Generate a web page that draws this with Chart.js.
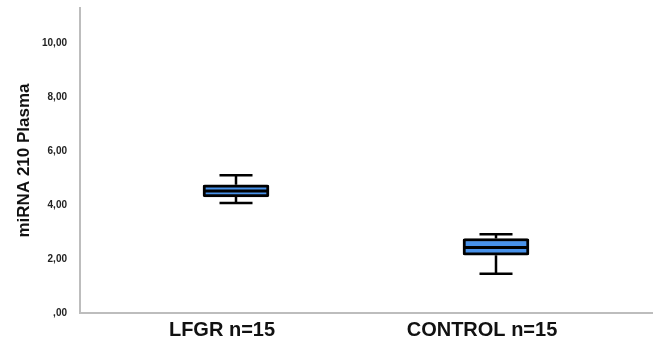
<!DOCTYPE html>
<html>
<head>
<meta charset="utf-8">
<script src="https://cdn.jsdelivr.net/npm/chart.js@4"></script>
<style>
  html, body { margin: 0; padding: 0; background: #fff; }
  #wrap { width: 655px; height: 342px; }
</style>
</head>
<body>
<div id="wrap"><canvas id="myChart"></canvas></div>
<script>
// Données (box plot)
const categories = ['LFGR n=15', 'CONTROL n=15'];
const whiskerMin = [4.08, 1.45];
const q1 = [4.30, 2.14];
const median = [4.52, 2.43];
const q3 = [4.75, 2.76];
const whiskerMax = [5.10, 2.92];
const yTicks = [0, 2, 4, 6, 8, 10];

// format SPSS : 4 -> "4,00", 0 -> ",00"
function spssFormat(v) {
    const s = v.toFixed(2).replace('.', ',');
    return s.startsWith('0,') ? s.slice(1) : s;
}

// Plugin pour dessiner moustaches et médiane
const boxWhiskers = {
    id: 'boxWhiskers',
    afterDatasetsDraw(chart) {
        const ctx = chart.ctx;
        const y = chart.scales.y;
        const meta = chart.getDatasetMeta(0);
        ctx.save();
        ctx.strokeStyle = '#000';
        meta.data.forEach((bar, i) => {
            const x = bar.x;
            const half = bar.width / 2;
            const cap = bar.width / 4;
            const yMin = y.getPixelForValue(whiskerMin[i]);
            const yMax = y.getPixelForValue(whiskerMax[i]);
            const yQ1 = y.getPixelForValue(q1[i]);
            const yQ3 = y.getPixelForValue(q3[i]);
            const yMed = y.getPixelForValue(median[i]);
            ctx.lineWidth = 2.5;
            ctx.beginPath();
            ctx.moveTo(x, yQ3); ctx.lineTo(x, yMax);
            ctx.moveTo(x - cap, yMax); ctx.lineTo(x + cap, yMax);
            ctx.moveTo(x, yQ1); ctx.lineTo(x, yMin);
            ctx.moveTo(x - cap, yMin); ctx.lineTo(x + cap, yMin);
            ctx.stroke();
            ctx.lineWidth = 3;
            ctx.beginPath();
            ctx.moveTo(x - half + 1, yMed); ctx.lineTo(x + half - 1, yMed);
            ctx.stroke();
        });
        ctx.restore();
    }
};

const ctx = document.getElementById('myChart').getContext('2d');
new Chart(ctx, {
    type: 'bar',
    data: {
        datasets: [{
            data: categories.map((c, i) => ({ x: i + 1, y: [q1[i], q3[i]] })),
            backgroundColor: 'rgb(72, 146, 234)',
            borderColor: '#000',
            borderWidth: 3,
            borderSkipped: false,
            borderRadius: 2,
            barThickness: 66
        }]
    },
    options: {
        responsive: true,
        maintainAspectRatio: false,
        animation: false,
        layout: { padding: { top: 8, right: 3, left: 0, bottom: 0 } },
        plugins: {
            legend: { display: false },
            tooltip: { enabled: false }
        },
        scales: {
            x: {
                type: 'linear',
                min: 0.4,
                max: 2.6,
                offset: false,
                grid: { display: false, drawTicks: false },
                border: { display: true, color: '#bdbdbd', width: 2 },
                afterBuildTicks: scale => {
                    scale.ticks = categories.map((c, i) => ({ value: i + 1 }));
                },
                afterFit: scale => { scale.height = 29; },
                ticks: {
                    autoSkip: false,
                    maxRotation: 0,
                    padding: 5,
                    labelOffset: -14,
                    color: '#111',
                    font: { family: 'Liberation Sans, Arial', size: 20, weight: 'bold' },
                    callback: (v, i) => categories[i]
                }
            },
            y: {
                min: 0,
                max: 11.3,
                grid: { display: false, drawTicks: false },
                border: { display: true, color: '#bdbdbd', width: 2 },
                afterBuildTicks: scale => {
                    scale.ticks = yTicks.map(v => ({ value: v }));
                },
                afterFit: scale => {
                    scale.width = 80;
                    scale.paddingTop = 0;
                    scale.paddingBottom = 0;
                },
                ticks: {
                    padding: 13,
                    color: '#222',
                    font: { family: 'Liberation Sans, Arial', size: 10, weight: 'bold' },
                    callback: v => spssFormat(v)
                },
                title: {
                    display: true,
                    text: 'miRNA 210 Plasma',
                    color: '#111',
                    font: { family: 'Liberation Sans, Arial', size: 17, weight: 'bold' },
                    padding: { top: 14, bottom: 0 }
                }
            }
        }
    },
    plugins: [boxWhiskers]
});
</script>
</body>
</html>
